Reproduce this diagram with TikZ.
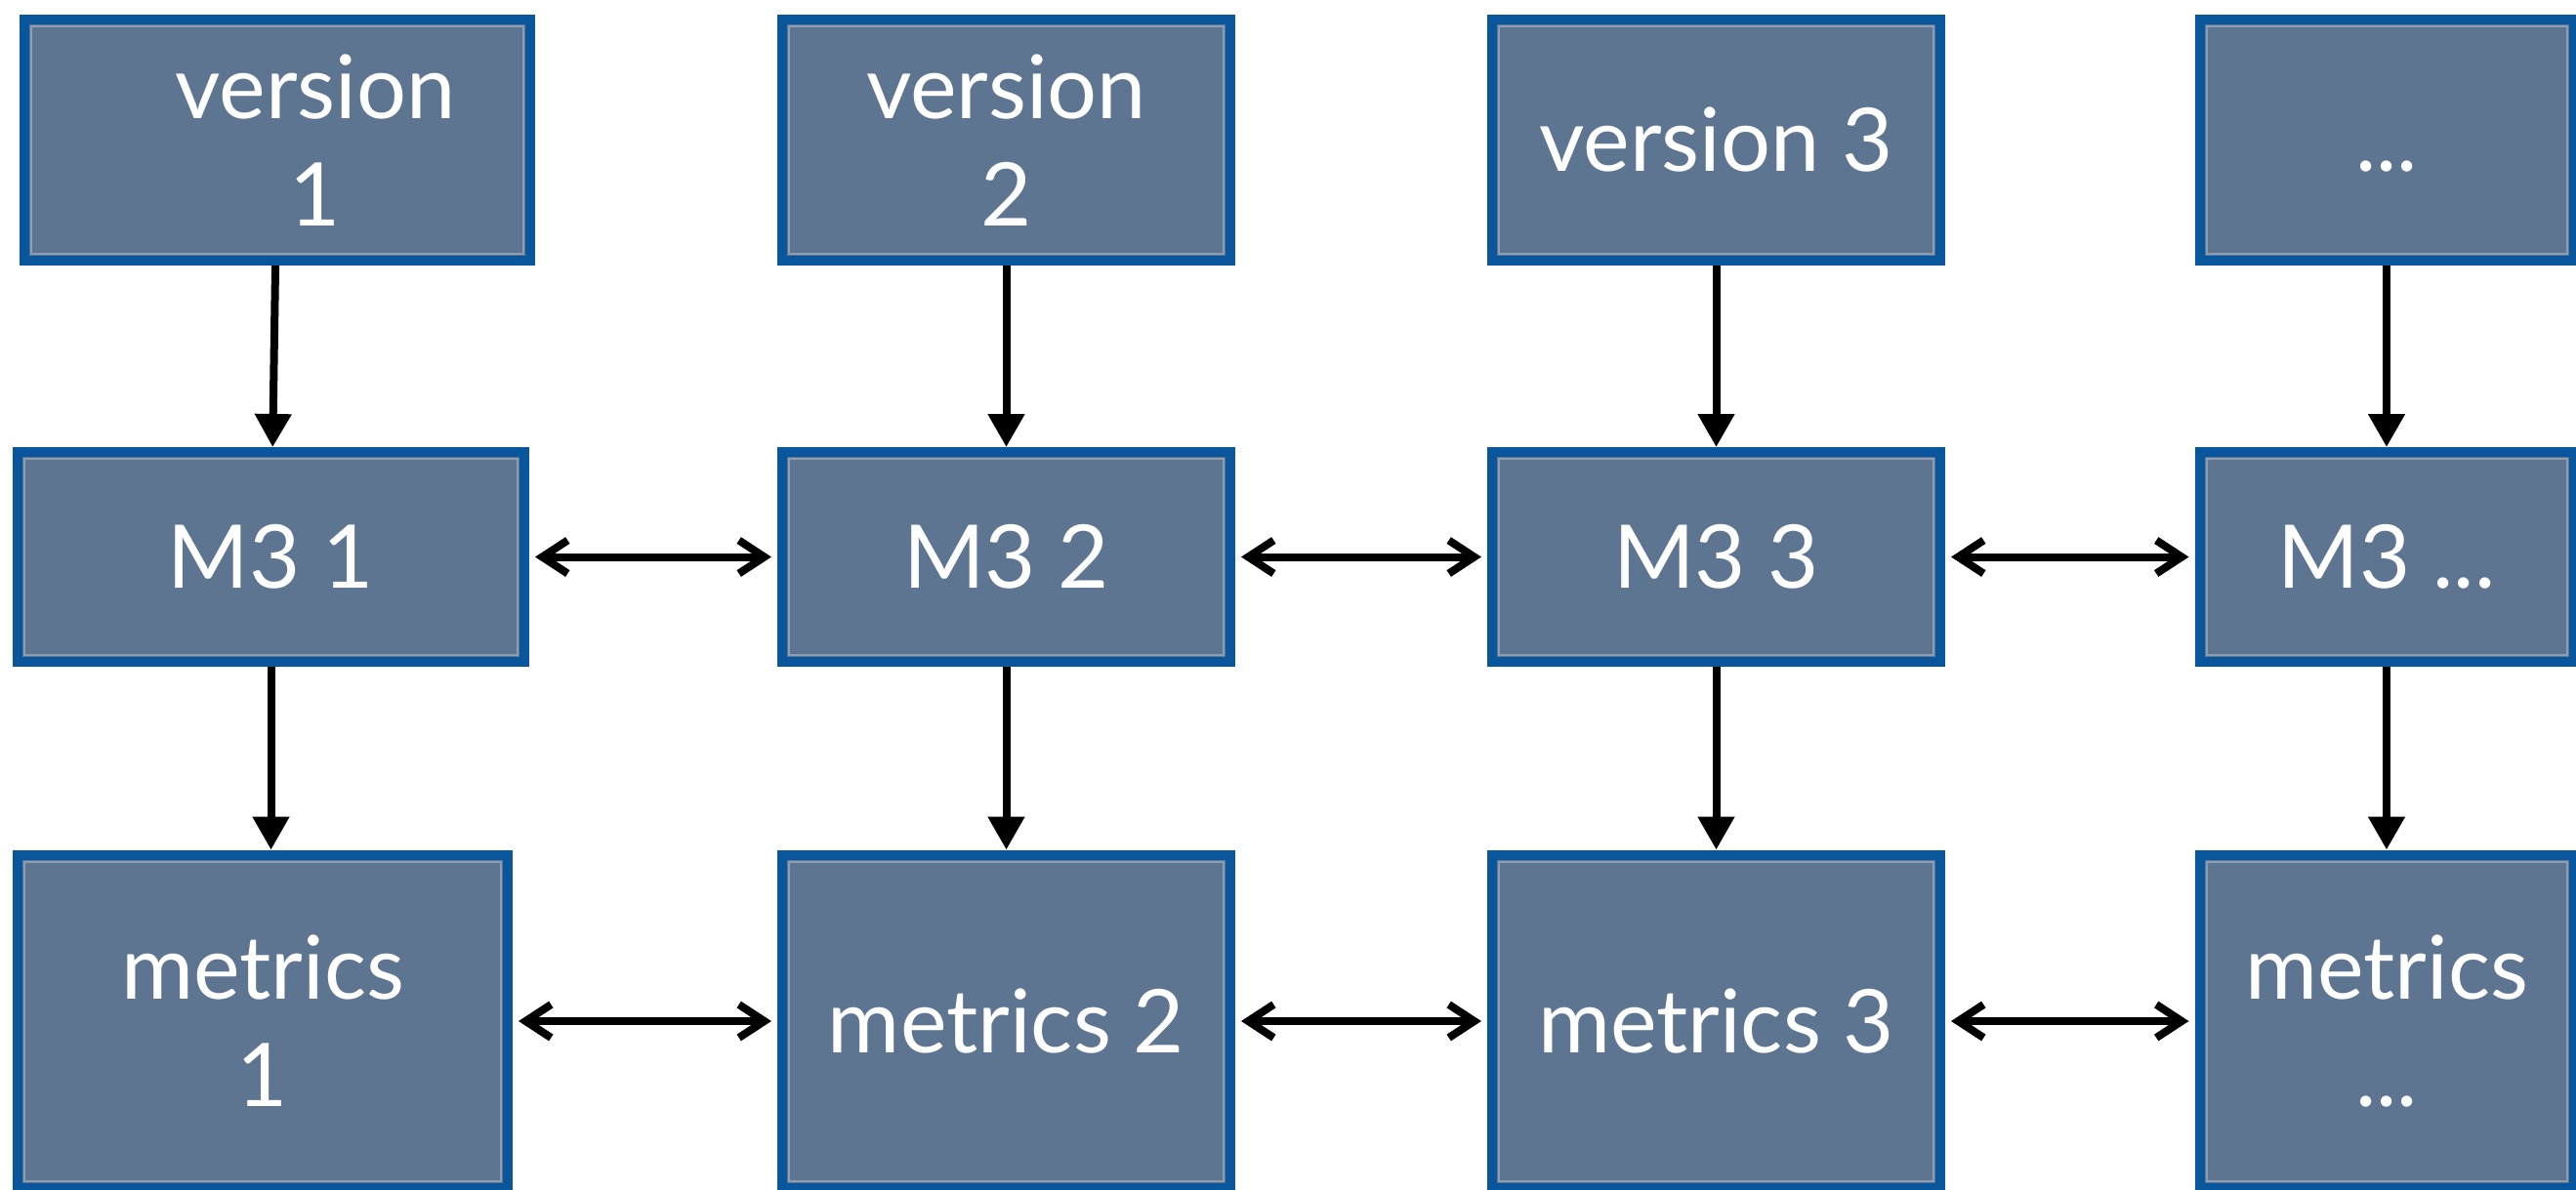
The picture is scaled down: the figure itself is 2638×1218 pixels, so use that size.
\documentclass[tikz,border=0pt]{standalone}
\usepackage{fontspec}
\setmainfont{Lato}
\usetikzlibrary{arrows.meta}
\definecolor{boxfill}{RGB}{94,117,146}
\definecolor{boxline}{RGB}{10,86,156}
\begin{document}
\begin{tikzpicture}[x=1pt,y=-1pt,
  box/.style={rectangle, fill=boxfill, draw=boxline, line width=10pt, text=white,
    font=\fontsize{90}{110}\selectfont, align=center, inner sep=0pt,
    path picture={\draw[white,opacity=0.3,line width=2pt]
      ([shift={(7pt,7pt)}]path picture bounding box.south west) rectangle
      ([shift={(-7pt,-7pt)}]path picture bounding box.north east);}},
  rowa/.style={box, minimum height=247pt},
  rowb/.style={box, minimum height=215pt},
  rowc/.style={box, minimum height=341pt},
  varrow/.style={-{Triangle[length=34pt,width=36pt]}, line width=8pt},
  harrow/.style={{Straight Barb[length=26pt,width=34pt]}-{Straight Barb[length=26pt,width=34pt]},
    line width=8pt, shorten <=6pt, shorten >=6pt}]
\useasboundingbox (0,0) rectangle (2638,1218);
\clip (0,0) rectangle (2638,1218);
% row 1
\node[rowa, minimum width=518pt] (v1) at (284,143.5) {\hspace*{78pt}version\\\hspace*{78pt}1};
\node[rowa, minimum width=459pt] (v2) at (1030.5,143.5) {version\\2};
\node[rowa, minimum width=459pt] (v3) at (1757.5,143.5) {version 3};
\node[rowa, minimum width=383pt] (v4) at (2444,143.5) {\raisebox{-10pt}{...}\strut};
% row 2
\node[rowb, minimum width=519pt] (m1) at (277.5,570.5) {M3 1};
\node[rowb, minimum width=459pt] (m2) at (1030.5,570.5) {M3 2};
\node[rowb, minimum width=459pt] (m3) at (1757.5,570.5) {M3 3};
\node[rowb, minimum width=383pt] (m4) at (2444,570.5) {M3 ...};
% row 3
\node[rowc, minimum width=502pt] (e1) at (269,1046) {metrics\\1};
\node[rowc, minimum width=459pt] (e2) at (1030.5,1046) {metrics 2};
\node[rowc, minimum width=459pt] (e3) at (1757.5,1046) {metrics 3};
\node[rowc, minimum width=383pt] (e4) at (2444,1046) {metrics\\...};
% vertical arrows
\draw[varrow] (v1) -- (m1);
\draw[varrow] (v2) -- (m2);
\draw[varrow] (v3) -- (m3);
\draw[varrow] (v4) -- (m4);
\draw[varrow] (m1.south) -- (m1.south |- e1.north);
\draw[varrow] (m2) -- (e2);
\draw[varrow] (m3) -- (e3);
\draw[varrow] (m4) -- (e4);
% horizontal arrows
\draw[harrow] (m1) -- (m2);
\draw[harrow] (m2) -- (m3);
\draw[harrow] (m3) -- (m4);
\draw[harrow] (e1) -- (e2);
\draw[harrow] (e2) -- (e3);
\draw[harrow] (e3) -- (e4);
\end{tikzpicture}
\end{document}
